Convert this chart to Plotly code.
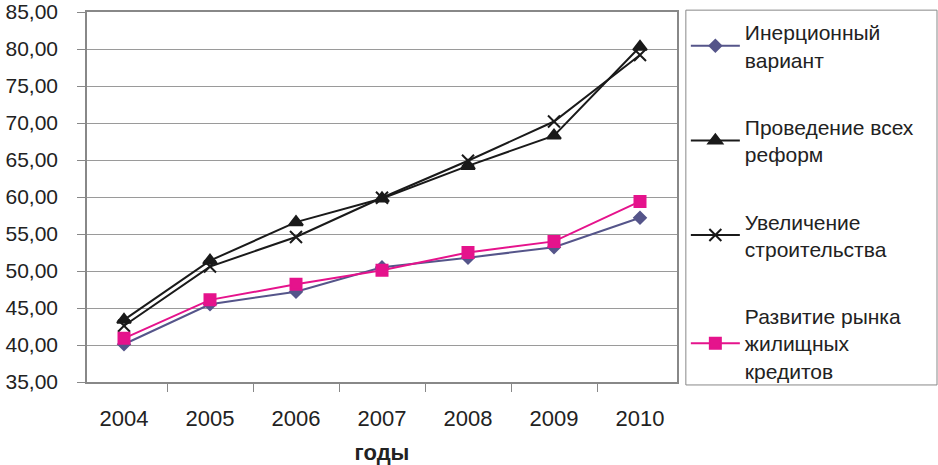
import plotly.graph_objects as go

years = ["2004", "2005", "2006", "2007", "2008", "2009", "2010"]
inertia = [40.1, 45.5, 47.2, 50.5, 51.8, 53.2, 57.2]
reforms = [43.4, 51.4, 56.6, 59.8, 64.2, 68.3, 80.3]
construction = [42.6, 50.6, 54.6, 59.9, 64.9, 70.2, 79.2]
credit = [40.9, 46.1, 48.2, 50.1, 52.5, 54.0, 59.4]

names = [
    "Инерционный<br>вариант",
    "Проведение всех<br>реформ",
    "Увеличение<br>строительства",
    "Развитие рынка<br>жилищных<br>кредитов",
]
y_ticks = [35, 40, 45, 50, 55, 60, 65, 70, 75, 80, 85]
y_labels = ["35,00", "40,00", "45,00", "50,00", "55,00", "60,00", "65,00",
            "70,00", "75,00", "80,00", "85,00"]

FONT = "Liberation Sans, Arial, sans-serif"

series = [
    (inertia, "#55558a", "diamond", 9),
    (reforms, "#1a1a1a", "triangle-up", 12),
    (construction, "#1a1a1a", "x-thin-open", 12),
    (credit, "#e5138c", "square", 11),
]

fig = go.Figure()
for i, (vals, color, sym, size) in enumerate(series):
    fig.add_trace(go.Scatter(
        x=years, y=vals, name=names[i], mode="lines+markers",
        legendgroup=str(i),
        line=dict(color=color, width=2),
        marker=dict(symbol=sym, size=size, color=color,
                    line=dict(color=color, width=2)),
    ))

# legend frame (decoration), spanning to the right edge like the original
fig.add_shape(type="rect", xref="paper", yref="paper",
              x0=1.015, x1=1.4407, y0=-0.008, y1=1.005,
              line=dict(color="#888888", width=1), fillcolor="rgba(0,0,0,0)",
              layer="below")

fig.update_layout(
    width=938, height=465,
    margin=dict(l=87, r=261, t=12, b=83, autoexpand=False),
    paper_bgcolor="white", plot_bgcolor="white",
    font=dict(family=FONT, size=21, color="#222222"),
    showlegend=True,
    legend=dict(
        x=1.015, xanchor="left", y=1.0, yanchor="top",
        borderwidth=0, bgcolor="rgba(0,0,0,0)",
        font=dict(family=FONT, size=21, color="#222222"),
        traceorder="grouped", tracegroupgap=37,
        itemwidth=49, maxheight=460,
    ),
    xaxis=dict(
        type="category", showgrid=False,
        showline=True, linecolor="#888888", linewidth=1.5, mirror=True,
        ticks="outside", tickson="boundaries", ticklen=8, tickcolor="#888888",
        tickfont=dict(size=22), ticklabelstandoff=16,
        title=dict(text="<b>годы</b>", font=dict(size=22, color="#222222"), standoff=14),
    ),
    yaxis=dict(
        range=[35, 85], tickvals=y_ticks, ticktext=y_labels,
        showgrid=True, gridcolor="#9a9a9a", gridwidth=1,
        showline=True, linecolor="#888888", linewidth=1.5, mirror=True,
        ticks="outside", ticklen=8, tickcolor="#888888",
        tickfont=dict(size=21), zeroline=False,
        ticklabelstandoff=15, ticklabeloverflow="allow",
    ),
)

fig.write_html("out.html", config={"displayModeBar": False},
               post_script="document.body.style.margin='0';")
